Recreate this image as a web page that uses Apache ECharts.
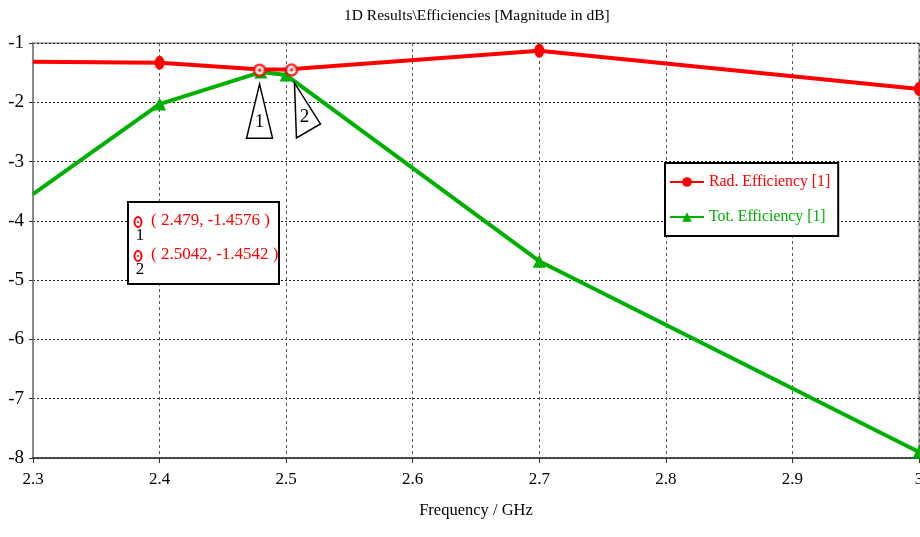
<!DOCTYPE html>
<html><head><meta charset="utf-8">
<script src="https://cdn.jsdelivr.net/npm/echarts@6/dist/echarts.min.js"></script>
<style>html,body{margin:0;padding:0;background:#fff}#c{width:920px;height:537px}</style>
</head><body><div id="c"></div>
<script>
const freq = [2.3, 2.4, 2.48, 2.5, 2.7, 3.0];
const radEff = [-1.315, -1.335, -1.445, -1.445, -1.13, -1.775];
const totEff = [-3.55, -2.03, -1.49, -1.54, -4.68, -7.9];
const radMarkerShown = [false, true, false, false, true, true];
const totMarkerShown = [false, true, true, true, true, true];
const markerFreq = [2.479, 2.5042];
const markerVal = [-1.4576, -1.4542];
const markerLabels = ['1', '2'];
const xTicks = [2.3, 2.4, 2.5, 2.6, 2.7, 2.8, 2.9, 3.0];
const yTicks = [-8, -7, -6, -5, -4, -3, -2, -1];

const SERIF = '"Liberation Serif", "DejaVu Serif", serif';
const RED = '#ff0000', GREEN = '#00b000';

const chart = echarts.init(document.getElementById('c'), null, {renderer: 'canvas'});

function pairs(xs, ys, shown) {
  return xs.map((x, i) => ({value: [x, ys[i]], symbol: shown[i] ? undefined : 'none'}));
}

const option = {
  animation: false,
  backgroundColor: '#fff',
  title: {
    text: '1D Results\\Efficiencies [Magnitude in dB]',
    left: 339, top: 3,
    textStyle: {fontFamily: SERIF, fontSize: 15.5, fontWeight: 'normal', color: '#000'}
  },
  grid: {left: 33, right: 1, top: 43, bottom: 79, show: true, borderColor: '#666', borderWidth: 1,
    outerBoundsMode: 'none', containLabel: false},
  legend: {
    left: 665, top: 163, orient: 'vertical',
    padding: [11, 8, 11, 4], itemGap: 19,
    borderColor: '#000', borderWidth: 2, backgroundColor: '#fff',
    itemWidth: 34, itemHeight: 12,
    textStyle: {fontFamily: SERIF, fontSize: 15.8},
    data: [
      {name: 'Rad. Efficiency [1]', textStyle: {color: RED}},
      {name: 'Tot. Efficiency [1]', textStyle: {color: GREEN}}
    ]
  },
  xAxis: {
    type: 'value', min: 2.3, max: 3.0, interval: 0.1,
    name: 'Frequency / GHz', nameLocation: 'middle', nameGap: 44,
    nameTextStyle: {fontFamily: SERIF, fontSize: 16.5, color: '#000'},
    axisLine: {lineStyle: {color: '#333', width: 1.5}},
    axisTick: {show: true, length: 5, lineStyle: {color: '#333'}},
    axisLabel: {fontFamily: SERIF, fontSize: 17, color: '#000', margin: 13,
      formatter: v => { const t = xTicks.find(k => Math.abs(k - v) < 1e-6); return t === undefined ? '' : String(+t.toFixed(1)); }},
    splitLine: {show: true, lineStyle: {color: '#555', type: [3, 3], width: 1}}
  },
  yAxis: {
    type: 'value', min: -8, max: -1, interval: 1,
    axisLine: {show: true, lineStyle: {color: '#888', width: 2}},
    axisTick: {show: true, length: 4, lineStyle: {color: '#333'}},
    axisLabel: {fontFamily: SERIF, fontSize: 19, color: '#000', margin: 9,
      formatter: v => yTicks.includes(Math.round(v)) ? String(Math.round(v)) : ''},
    splitLine: {show: true, lineStyle: {color: '#222', type: [2, 2], width: 1}}
  },
  series: [
    {
      name: 'Rad. Efficiency [1]', type: 'line', data: pairs(freq, radEff, radMarkerShown),
      symbol: 'circle', symbolSize: [10, 14], color: RED,
      lineStyle: {width: 4, color: RED}, itemStyle: {color: RED}, z: 3
    },
    {
      name: 'Tot. Efficiency [1]', type: 'line', data: pairs(freq, totEff, totMarkerShown),
      symbol: 'triangle', symbolSize: 13, color: GREEN,
      lineStyle: {width: 4, color: GREEN}, itemStyle: {color: GREEN}, z: 2
    },
    {
      name: 'markers', type: 'scatter', data: markerFreq.map((f, i) => [f, markerVal[i]]),
      symbol: 'circle', symbolSize: 11,
      itemStyle: {color: '#fff', borderColor: RED, borderWidth: 2.5}, z: 5, silent: true
    },
    {
      name: 'markerDots', type: 'scatter', data: markerFreq.map((f, i) => [f, markerVal[i]]),
      symbol: 'circle', symbolSize: 3, itemStyle: {color: RED}, z: 6, silent: true
    }
  ]
};
chart.setOption(option);

// annotation graphics relative to marker points
const g = [];
const tri = [
  {pts: [[0, 14], [-13, 68], [13, 68]], lab: [0, 52]},
  {pts: [[3, 13], [5, 68], [29, 54]], lab: [13, 47]}
];
markerFreq.forEach((f, i) => {
  const p = chart.convertToPixel({gridIndex: 0}, [f, markerVal[i]]);
  const t = tri[i];
  g.push({type: 'polygon', shape: {points: t.pts.map(q => [p[0] + q[0], p[1] + q[1]])},
    style: {fill: '#fff', stroke: '#000', lineWidth: 1.5}, z: 10});
  g.push({type: 'text', x: p[0] + t.lab[0], y: p[1] + t.lab[1],
    style: {text: markerLabels[i], font: '19px ' + SERIF, fill: '#000', align: 'center', verticalAlign: 'middle'}, z: 11});
});
// marker value box
const bx = 128, by = 202, bw = 151, bh = 82;
g.push({type: 'rect', shape: {x: bx, y: by, width: bw, height: bh}, style: {fill: '#fff', stroke: '#000', lineWidth: 2}, z: 10});
markerFreq.forEach((f, i) => {
  const cy = by + 20 + i * 34;
  g.push({type: 'ellipse', shape: {cx: bx + 10, cy: cy, rx: 3.5, ry: 5}, style: {fill: '#fff', stroke: RED, lineWidth: 2}, z: 11});
  g.push({type: 'circle', shape: {cx: bx + 10, cy: cy, r: 1}, style: {fill: RED}, z: 12});
  g.push({type: 'text', x: bx + 12, y: cy + 14, style: {text: markerLabels[i], font: '17px ' + SERIF, fill: '#000', align: 'center', verticalAlign: 'middle'}, z: 11});
  g.push({type: 'text', x: bx + 23, y: cy - 1,
    style: {text: '( ' + f + ', ' + markerVal[i] + ' )', font: '17px ' + SERIF, fill: RED, align: 'left', verticalAlign: 'middle'}, z: 11});
});
chart.setOption({graphic: g});
</script>
</body></html>
